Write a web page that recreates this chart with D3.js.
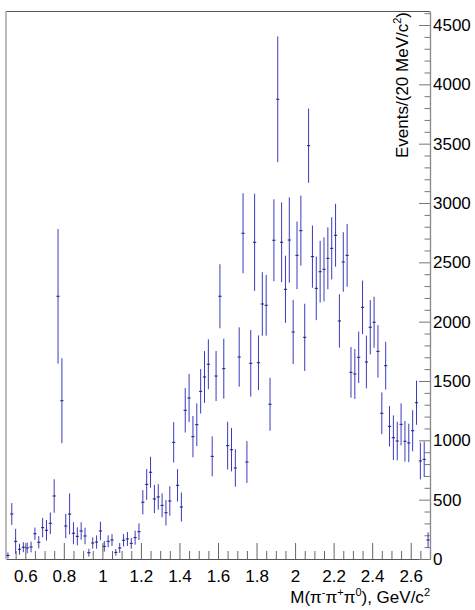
<!DOCTYPE html>
<html>
<head>
<meta charset="utf-8">
<script src="https://cdn.jsdelivr.net/npm/d3@7"></script>
<style>
  html, body { margin: 0; padding: 0; background: #fff; }
  svg { display: block; }
  text { font-family: "Liberation Sans", Arial, Helvetica, sans-serif; fill: #000; }
</style>
</head>
<body>
<svg id="chart" width="475" height="610"></svg>
<script>
// ---- data (20 MeV bins from 0.50 to 2.70 GeV/c^2) ----
const binStart = 0.5;
const binWidth = 0.02;
const counts = [
  30, 379, 149, 82, 99, 93, 101, 213, 141, 264,
  242, 301, 531, 2214, 1334, 278, 379, 217, 191, 236,
  194, 53, 135, 143, 236, 107, 149, 160, 56, 93,
  158, 169, 132, 180, 230, 478, 629, 731, 506, 523,
  452, 390, 489, 983, 621, 438, 1253, 1357, 1031, 1132,
  1413, 1534, 1641, 865, 1542, 2214, 1604, 955, 921, 767,
  1702, 2745, 817, 1649, 2669, 1654, 2149, 2138, 1304, 2686,
  3874, 2669, 2273, 2688, 1913, 2559, 2767, 1868, 3483, 2548,
  2281, 2421, 2441, 2534, 2618, 2728, 2006, 2503, 2559, 1573,
  1559, 1700, 2121, 1660, 1953, 1995, 1750, 1228, 1629, 1118,
  1022, 994, 1135, 992, 978, 1081, 1317, 826, 840, 160
];
const errors = [
  25, 92, 105, 46, 42, 45, 45, 52, 52, 82,
  87, 91, 141, 567, 358, 102, 173, 93, 76, 73,
  70, 33, 48, 56, 78, 45, 50, 50, 28, 42,
  52, 59, 46, 59, 70, 102, 130, 130, 119, 108,
  101, 108, 124, 170, 136, 122, 187, 203, 174, 180,
  187, 218, 210, 168, 211, 270, 253, 201, 183, 158,
  250, 337, 176, 281, 409, 230, 268, 256, 223, 345,
  530, 336, 283, 360, 270, 285, 295, 283, 313, 262,
  268, 260, 270, 261, 262, 265, 225, 251, 265, 213,
  210, 216, 225, 222, 229, 215, 221, 176, 201, 170,
  188, 163, 177, 171, 162, 173, 186, 155, 149, 65
];
const xMajorTicks = [0.6, 0.8, 1.0, 1.2, 1.4, 1.6, 1.8, 2.0, 2.2, 2.4, 2.6];
const xMinorTicks = [0.55, 0.65, 0.7, 0.75, 0.85, 0.9, 0.95, 1.05, 1.1, 1.15, 1.25, 1.3, 1.35,
  1.45, 1.5, 1.55, 1.65, 1.7, 1.75, 1.85, 1.9, 1.95, 2.05, 2.1, 2.15, 2.25, 2.3, 2.35,
  2.45, 2.5, 2.55, 2.65];
const yMajorTicks = [0, 500, 1000, 1500, 2000, 2500, 3000, 3500, 4000, 4500];
const yMinorTicks = [100, 200, 300, 400, 600, 700, 800, 900, 1100, 1200, 1300, 1400,
  1600, 1700, 1800, 1900, 2100, 2200, 2300, 2400, 2600, 2700, 2800, 2900,
  3100, 3200, 3300, 3400, 3600, 3700, 3800, 3900, 4100, 4200, 4300, 4400, 4600];
const xDomain = [0.5, 2.7];
const yDomain = [0, 4618];

const data = counts.map((c, i) => ({
  x: binStart + binWidth * (i + 0.5),
  y: c,
  e: errors[i]
}));

// ---- layout ----
const frame = { left: 6, right: 430, top: 11, bottom: 559 };
const svg = d3.select("#chart");

const x = d3.scaleLinear().domain(xDomain).range([frame.left, frame.right]);
const y = d3.scaleLinear().domain(yDomain).range([frame.bottom, frame.top]);

// frame
svg.append("line").attr("x1", frame.left).attr("x2", frame.right)
  .attr("y1", frame.top + 0.5).attr("y2", frame.top + 0.5)
  .attr("stroke", "#555").attr("stroke-width", 1);
svg.append("line").attr("x1", frame.left).attr("x2", frame.left)
  .attr("y1", frame.top).attr("y2", frame.bottom)
  .attr("stroke", "#aaa").attr("stroke-width", 1.6);

// x axis
const xAxisG = svg.append("g").attr("transform", `translate(0,${frame.bottom})`);
xAxisG.call(d3.axisBottom(x).tickValues(xMajorTicks).tickSizeInner(-16).tickSizeOuter(0)
  .tickPadding(8).tickFormat(d3.format("~g")));
xAxisG.call(g => g.select(".domain").attr("stroke", "#555").attr("stroke-width", 1.2));
xAxisG.selectAll(".tick line").attr("stroke", "#666");
xAxisG.selectAll(".tick text").attr("font-size", 17).attr("dy", "0.9em")
  .attr("font-family", "Liberation Sans, Arial, sans-serif").attr("fill", "#000");

const xMinorG = svg.append("g").attr("transform", `translate(0,${frame.bottom})`);
xMinorG.call(d3.axisBottom(x).tickValues(xMinorTicks).tickSizeInner(-8).tickSizeOuter(0).tickFormat(""));
xMinorG.select(".domain").remove();
xMinorG.selectAll(".tick line").attr("stroke", "#666");

// y axis (right)
const yAxisG = svg.append("g").attr("transform", `translate(${frame.right},0)`);
yAxisG.call(d3.axisRight(y).tickValues(yMajorTicks).tickSizeInner(-11).tickSizeOuter(0)
  .tickPadding(3).tickFormat(d3.format("d")));
yAxisG.call(g => g.select(".domain").attr("stroke", "#888").attr("stroke-width", 1.3));
yAxisG.selectAll(".tick line").attr("stroke", "#777");
yAxisG.selectAll(".tick text").attr("font-size", 17)
  .attr("font-family", "Liberation Sans, Arial, sans-serif").attr("fill", "#000");

const yMinorG = svg.append("g").attr("transform", `translate(${frame.right},0)`);
yMinorG.call(d3.axisRight(y).tickValues(yMinorTicks).tickSizeInner(-5.5).tickSizeOuter(0).tickFormat(""));
yMinorG.select(".domain").remove();
yMinorG.selectAll(".tick line").attr("stroke", "#777");

// data: error bars + markers
const pts = svg.append("g");
pts.selectAll("line.err").data(data).join("line")
  .attr("class", "err")
  .attr("x1", d => x(d.x)).attr("x2", d => x(d.x))
  .attr("y1", d => y(Math.min(d.y + d.e, yDomain[1])))
  .attr("y2", d => y(Math.max(d.y - d.e, 0)))
  .attr("stroke", "#3a3abf").attr("stroke-width", 1);
pts.selectAll("line.mk").data(data).join("line")
  .attr("class", "mk")
  .attr("x1", d => x(d.x) - 1.6).attr("x2", d => x(d.x) + 1.6)
  .attr("y1", d => y(d.y)).attr("y2", d => y(d.y))
  .attr("stroke", "#1c1c70").attr("stroke-width", 1);

// x title
const xt = svg.append("text").attr("x", frame.right).attr("y", 603)
  .attr("text-anchor", "end").attr("font-size", 17);
xt.append("tspan").text("M(\u03c0");
xt.append("tspan").attr("font-size", 11).attr("dy", -7).text("-");
xt.append("tspan").attr("dy", 7).text("\u03c0");
xt.append("tspan").attr("font-size", 11).attr("dy", -7).text("+");
xt.append("tspan").attr("dy", 7).text("\u03c0");
xt.append("tspan").attr("font-size", 11).attr("dy", -7).text("0");
xt.append("tspan").attr("dy", 7).text("), GeV/c");
xt.append("tspan").attr("font-size", 11).attr("dy", -7).text("2");

// y title
const yt = svg.append("text").attr("transform", "translate(408,12) rotate(-90)")
  .attr("text-anchor", "end").attr("font-size", 17);
yt.append("tspan").text("Events/(20 MeV/c");
yt.append("tspan").attr("font-size", 11).attr("dy", -7).text("2");
yt.append("tspan").attr("dy", 7).text(")");
</script>
</body>
</html>
